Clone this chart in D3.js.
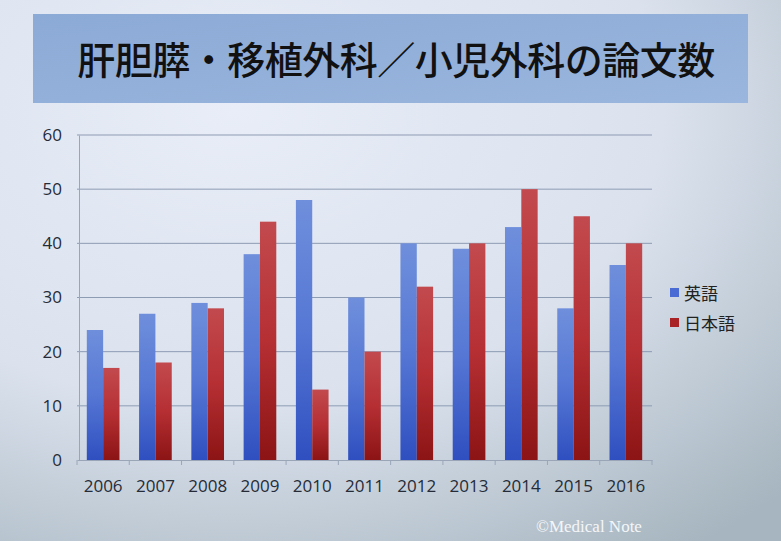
<!DOCTYPE html>
<html><head><meta charset="utf-8">
<script src="https://cdn.jsdelivr.net/npm/d3@7"></script>
<style>html,body{margin:0;padding:0;overflow:hidden;}</style>
</head><body>
<svg id="c" width="781" height="541"></svg>
<script>
const categories = ["2006","2007","2008","2009","2010","2011","2012","2013","2014","2015","2016"];
const seriesNames = ["英語","日本語"];
const english = [24,27,29,38,48,30,40,39,43,28,36];
const japanese = [17,18,28,44,13,20,32,40,50,45,40];
const yTicks = [0,10,20,30,40,50,60];
const titleText = "肝胆膵・移植外科／小児外科の論文数";

const svg = d3.select("#c");
const defs = svg.append("defs");
const bg = defs.append("radialGradient").attr("id","bg").attr("cx","0.3").attr("cy","0.2").attr("r","1.0");
bg.append("stop").attr("offset","0").attr("stop-color","#e8edf7");
bg.append("stop").attr("offset","0.55").attr("stop-color","#dbe2ee");
bg.append("stop").attr("offset","1").attr("stop-color","#a6b5bf");
const gb = defs.append("linearGradient").attr("id","gBlue").attr("x1",0).attr("y1",0).attr("x2",0).attr("y2",1);
gb.append("stop").attr("offset","0").attr("stop-color","#6f8fdc");
gb.append("stop").attr("offset","0.5").attr("stop-color","#5677d4");
gb.append("stop").attr("offset","1").attr("stop-color","#2f4fc0");
const gr = defs.append("linearGradient").attr("id","gRed").attr("x1",0).attr("y1",0).attr("x2",0).attr("y2",1);
gr.append("stop").attr("offset","0").attr("stop-color","#c24a4e");
gr.append("stop").attr("offset","0.5").attr("stop-color","#b52f33");
gr.append("stop").attr("offset","1").attr("stop-color","#8c1414");
const gt = defs.append("linearGradient").attr("id","gTitle").attr("x1",0).attr("y1",0).attr("x2",1).attr("y2",1);
gt.append("stop").attr("offset","0").attr("stop-color","#8caad6");
gt.append("stop").attr("offset","1").attr("stop-color","#9ab6de");

svg.append("rect").attr("width",781).attr("height",541).attr("fill","url(#bg)");

// title box
svg.append("rect").attr("x",33).attr("y",14).attr("width",715).attr("height",89).attr("fill","url(#gTitle)");
svg.append("text").attr("x",396).attr("y",74).attr("text-anchor","middle")
  .attr("font-family","'Noto Sans CJK JP'").attr("font-size",38).attr("font-weight",500)
  .attr("letter-spacing",-0.5).attr("fill","#111")
  .text(titleText);

const margin = {left:77, right:652, top:135, bottom:460};
const x = d3.scaleBand().domain(categories).range([margin.left, margin.right]).paddingInner(0).paddingOuter(0);
const y = d3.scaleLinear().domain([0,60]).range([margin.bottom, margin.top]);
const inner = d3.scaleBand().domain(seriesNames).range([0, x.bandwidth()]).paddingOuter(0.6).paddingInner(0);

// gridlines
svg.append("g").selectAll("line").data(yTicks.filter(d=>d>0)).join("line")
  .attr("x1",margin.left).attr("x2",margin.right)
  .attr("y1",d=>y(d)).attr("y2",d=>y(d))
  .attr("stroke","#8d9bb3").attr("stroke-width",1);

// y axis
const yAxis = svg.append("g").attr("transform",`translate(${margin.left+2},0)`)
  .call(d3.axisLeft(y).tickValues(yTicks).tickSize(0).tickPadding(17));
yAxis.select(".domain").attr("stroke","#9aa6b8");
yAxis.selectAll("text").attr("font-family","'Open Sans', sans-serif").attr("font-size",17).attr("fill","#252c38");

// bars
const rows = categories.map((c,i)=>({c, vals:[{s:seriesNames[0],v:english[i]},{s:seriesNames[1],v:japanese[i]}]}));
const g = svg.append("g");
g.selectAll("g").data(rows).join("g").attr("transform",d=>`translate(${x(d.c)},0)`)
  .selectAll("rect").data(d=>d.vals).join("rect")
  .attr("x",d=>inner(d.s)).attr("width",inner.bandwidth())
  .attr("y",d=>y(d.v)).attr("height",d=>y(0)-y(d.v))
  .attr("fill",d=>d.s===seriesNames[0]?"url(#gBlue)":"url(#gRed)");

// x axis
const xAxis = svg.append("g").attr("transform",`translate(0,${margin.bottom})`)
  .call(d3.axisBottom(x).tickSize(0).tickPadding(20));
xAxis.select(".domain").attr("stroke","#9aa6b8");
xAxis.selectAll("text").attr("font-family","'Open Sans', sans-serif").attr("font-size",17).attr("fill","#252c38");
svg.append("g").selectAll("line").data(categories.concat(["end"])).join("line")
  .attr("x1",(d,i)=>margin.left + i*x.bandwidth()).attr("x2",(d,i)=>margin.left + i*x.bandwidth())
  .attr("y1",margin.bottom).attr("y2",margin.bottom+5).attr("stroke","#9aa6b8");

// legend
const lg = svg.append("g").attr("transform","translate(670,285)");
lg.selectAll("g").data(seriesNames).join("g").attr("transform",(d,i)=>`translate(0,${i*30})`)
  .each(function(d,i){
    const s = d3.select(this);
    s.append("rect").attr("x",0).attr("y",3).attr("width",9).attr("height",9)
      .attr("fill",i===0?"#4a6ad4":"#a82226");
    s.append("text").attr("x",14).attr("y",15).attr("font-family","'Noto Sans CJK JP'")
      .attr("font-size",17).attr("fill","#222").text(d);
  });

// watermark
svg.append("text").attr("x",536).attr("y",532).attr("font-family","'Liberation Serif', serif")
  .attr("font-size",17).attr("fill","#f4f6f8").text("©Medical Note");
</script>
</body></html>
